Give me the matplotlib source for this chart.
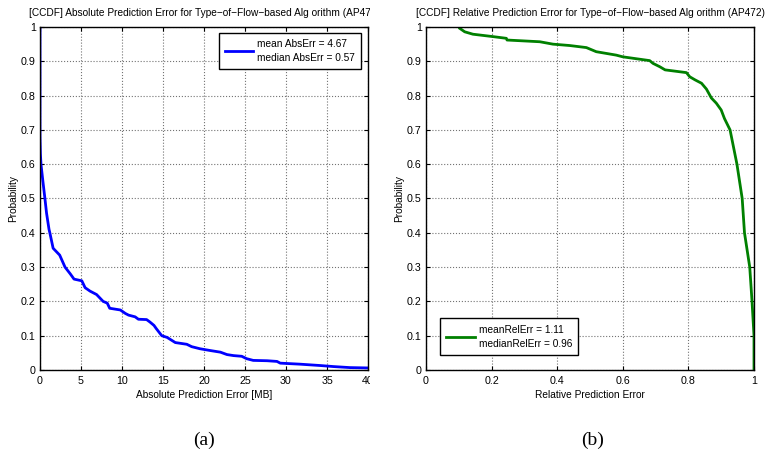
import matplotlib
matplotlib.use("Agg")
import matplotlib.pyplot as plt
from matplotlib.ticker import FuncFormatter, MultipleLocator
from matplotlib.transforms import Bbox, TransformedBbox

plt.rcParams['font.family'] = ["Liberation Sans", "DejaVu Sans"]
FS = 7.3

# CCDF of absolute prediction error [MB]
abs_err = [0, 0, 0.05, 0.12, 0.33, 0.6, 0.8, 1.1, 1.2, 1.6, 1.8, 2.4, 3.05, 3.7,
           4.15, 5.1, 5.3, 5.5, 6.1, 6.9, 7.7, 8.2, 8.5, 9.8, 10.4, 10.8, 11.6,
           12.0, 13.0, 13.4, 13.9, 14.2, 14.85, 15.5, 16.5, 17.9, 18.5, 19.5,
           20.7, 22.0, 22.8, 23.6, 24.6, 25.2, 26.0, 27.7, 28.9, 29.3, 31.7,
           34.2, 35.8, 37.8, 40]
abs_prob = [1.0, 0.68, 0.63, 0.6, 0.555, 0.5, 0.457, 0.41, 0.4, 0.355, 0.35,
            0.335, 0.3, 0.28, 0.265, 0.26, 0.25, 0.24, 0.23, 0.22, 0.2, 0.195,
            0.18, 0.175, 0.165, 0.16, 0.155, 0.148, 0.147, 0.14, 0.13, 0.12,
            0.1, 0.095, 0.08, 0.075, 0.068, 0.062, 0.057, 0.052, 0.045, 0.042,
            0.04, 0.033, 0.028, 0.027, 0.025, 0.02, 0.017, 0.013, 0.01, 0.007,
            0.006]

# CCDF of relative prediction error
rel_err = [0.103, 0.118, 0.143, 0.204, 0.245, 0.247, 0.347, 0.387, 0.438,
           0.489, 0.519, 0.58, 0.6, 0.682, 0.692, 0.713, 0.729, 0.794, 0.804,
           0.82, 0.84, 0.855, 0.87, 0.885, 0.9, 0.91, 0.927, 0.948, 0.964,
           0.971, 0.987, 0.994, 0.997, 1.0, 1.0]
rel_prob = [0.996, 0.986, 0.979, 0.972, 0.967, 0.962, 0.957, 0.95, 0.946, 0.94,
            0.928, 0.918, 0.913, 0.902, 0.894, 0.884, 0.875, 0.867, 0.855,
            0.846, 0.836, 0.819, 0.793, 0.778, 0.758, 0.733, 0.7, 0.6, 0.5,
            0.4, 0.3, 0.2, 0.15, 0.1, 0.0]

abs_label = "mean AbsErr = 4.67\nmedian AbsErr = 0.57"
rel_label = "meanRelErr = 1.11\nmedianRelErr = 0.96"
abs_title = "[CCDF] Absolute Prediction Error for Type\u2212of\u2212Flow\u2212based Alg orithm (AP472)"
rel_title = "[CCDF] Relative Prediction Error for Type\u2212of\u2212Flow\u2212based Alg orithm (AP472)"


def style_axes(ax, xmax, xstep):
    ax.set_xlim(0, xmax)
    ax.set_ylim(0, 1)
    ax.xaxis.set_major_locator(MultipleLocator(xstep))
    ax.yaxis.set_major_locator(MultipleLocator(0.1))
    fmt = FuncFormatter(lambda v, p: f"{v:g}")
    ax.xaxis.set_major_formatter(fmt)
    ax.yaxis.set_major_formatter(fmt)
    ax.tick_params(direction="in", top=True, right=True, length=3,
                   labelsize=FS + 0.4, pad=3)
    ax.tick_params(axis="x", pad=4)
    ax.grid(True, linestyle=":", color="0.45", linewidth=0.8)
    for s in ax.spines.values():
        s.set_linewidth(1.0)
    ax.set_ylabel("Probability", fontsize=FS, labelpad=2)


def boxed_legend(ax, **kw):
    leg = ax.legend(fontsize=FS, fancybox=False, edgecolor="black",
                    framealpha=1, handlelength=2.8, borderpad=0.6,
                    handletextpad=0.4, borderaxespad=0.5, **kw)
    leg.get_frame().set_linewidth(1.0)
    for t in leg.get_texts():
        t.set_linespacing(1.5)
    return leg


fig = plt.figure(figsize=(7.66, 4.59), dpi=100)
ax1 = fig.add_axes([40 / 766, 1 - 370 / 459, 328 / 766, 343 / 459])
ax2 = fig.add_axes([426 / 766, 1 - 370 / 459, 328 / 766, 343 / 459])

ax1.plot(abs_err, abs_prob, color=(0, 0, 1), lw=2.0, label=abs_label)
style_axes(ax1, 40, 5)
ax1.set_xlabel("Absolute Prediction Error [MB]", fontsize=FS, labelpad=3)
t1 = ax1.set_title(abs_title, fontsize=FS, pad=8)
boxed_legend(ax1, loc="upper right", bbox_to_anchor=(0.995, 0.998))

ax2.plot(rel_err, rel_prob, color=(0, 0.5, 0), lw=2.0, label=rel_label)
style_axes(ax2, 1, 0.2)
ax2.set_xlabel("Relative Prediction Error", fontsize=FS, labelpad=3)
ax2.set_title(rel_title, fontsize=FS, pad=8)
boxed_legend(ax2, loc="lower left", bbox_to_anchor=(0.028, 0.03))

# left panel was cropped at its right edge in the original figure
clip = TransformedBbox(Bbox([[0, 0], [370 / 766, 1]]), fig.transFigure)
for txt in [t1] + ax1.get_xticklabels():
    txt.set_clip_box(clip)
    txt.set_clip_on(True)

serif = ["Liberation Serif", "DejaVu Serif"]
fig.text(204 / 766, 1 - 440 / 459, "(a)", fontsize=14, ha="center", va="center",
         family=serif)
fig.text(593 / 766, 1 - 440 / 459, "(b)", fontsize=14, ha="center", va="center",
         family=serif)

fig.savefig("out.png", dpi=100)
